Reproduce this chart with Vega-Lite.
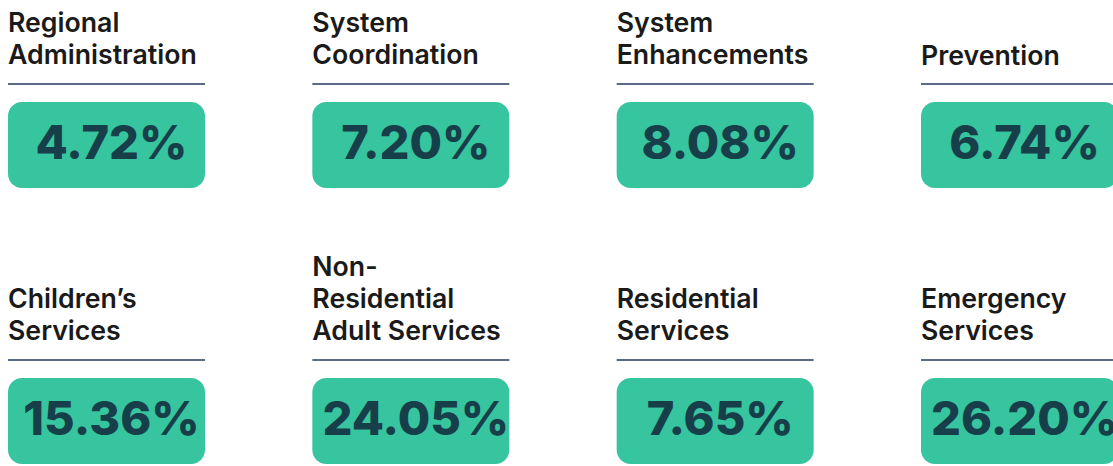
{
  "$schema": "https://vega.github.io/schema/vega-lite/v6.json",
  "width": 1113,
  "height": 466,
  "padding": 0,
  "autosize": "none",
  "background": "white",
  "config": {"view": {"stroke": null}},
  "data": {
    "values": [
      {"label": ["Regional", "Administration"], "share": 0.0472, "col": 0, "row": 0},
      {"label": ["System", "Coordination"], "share": 0.072, "col": 1, "row": 0},
      {"label": ["System", "Enhancements"], "share": 0.0808, "col": 2, "row": 0},
      {"label": ["Prevention"], "share": 0.0674, "col": 3, "row": 0},
      {"label": ["Children’s", "Services"], "share": 0.1536, "col": 0, "row": 1},
      {"label": ["Non-", "Residential", "Adult Services"], "share": 0.2405, "col": 1, "row": 1},
      {"label": ["Residential", "Services"], "share": 0.0765, "col": 2, "row": 1},
      {"label": ["Emergency", "Services"], "share": 0.262, "col": 3, "row": 1}
    ]
  },
  "encoding": {
    "x": {"field": "col", "type": "ordinal", "axis": null, "scale": {"domain": [0, 1, 2, 3], "range": [8, 1118], "paddingInner": 0.3527, "paddingOuter": 0}},
    "y": {"field": "row", "type": "ordinal", "axis": null, "scale": {"domain": [0, 1], "range": [102, 464], "paddingInner": 0.6884, "paddingOuter": 0}}
  },
  "layer": [
    {
      "mark": {"type": "rect", "color": "#36c59e", "cornerRadius": 14}
    },
    {
      "mark": {"type": "rect", "color": "#5b6a88", "height": 2, "yOffset": -61}
    },
    {
      "mark": {"type": "text", "align": "center", "baseline": "alphabetic", "dx": 5, "dy": 14, "font": "Inter", "fontWeight": 800, "fontSize": 47, "color": "#173f4a"},
      "encoding": {"text": {"field": "share", "type": "quantitative", "format": ".2%"}}
    },
    {
      "transform": [{"filter": "length(datum.label) == 1"}],
      "mark": {"type": "text", "align": "left", "baseline": "alphabetic", "lineHeight": 32, "dy": -37, "font": "Inter", "fontWeight": 600, "fontSize": 26.7, "color": "#1a1a1a"},
      "encoding": {
        "x": {"field": "col", "type": "ordinal", "bandPosition": 0, "axis": null},
        "y": {"field": "row", "type": "ordinal", "bandPosition": 0, "axis": null},
        "text": {"field": "label", "type": "nominal"}
      }
    },
    {
      "transform": [{"filter": "length(datum.label) == 2"}],
      "mark": {"type": "text", "align": "left", "baseline": "alphabetic", "lineHeight": 32, "dy": -70, "font": "Inter", "fontWeight": 600, "fontSize": 26.7, "color": "#1a1a1a"},
      "encoding": {
        "x": {"field": "col", "type": "ordinal", "bandPosition": 0, "axis": null},
        "y": {"field": "row", "type": "ordinal", "bandPosition": 0, "axis": null},
        "text": {"field": "label", "type": "nominal"}
      }
    },
    {
      "transform": [{"filter": "length(datum.label) == 3"}],
      "mark": {"type": "text", "align": "left", "baseline": "alphabetic", "lineHeight": 32, "dy": -102, "font": "Inter", "fontWeight": 600, "fontSize": 26.7, "color": "#1a1a1a"},
      "encoding": {
        "x": {"field": "col", "type": "ordinal", "bandPosition": 0, "axis": null},
        "y": {"field": "row", "type": "ordinal", "bandPosition": 0, "axis": null},
        "text": {"field": "label", "type": "nominal"}
      }
    }
  ]
}
